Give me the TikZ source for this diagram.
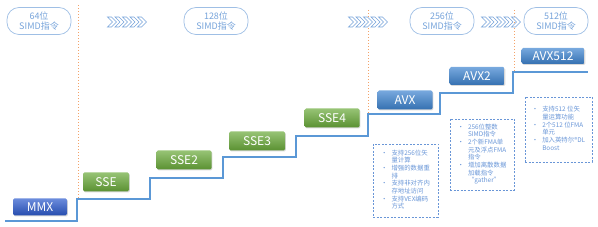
\documentclass[tikz,border=0pt]{standalone}
\usepackage{fontspec}
\setmainfont{Noto Sans CJK SC}
\usetikzlibrary{shadows}
\definecolor{lineB}{RGB}{91,152,214}
\definecolor{tagB}{RGB}{118,163,218}
\definecolor{dotO}{RGB}{244,162,104}
\definecolor{sseG}{RGB}{106,170,58}
\definecolor{avxB}{RGB}{62,132,208}
\definecolor{mmxB}{RGB}{44,90,205}
\definecolor{noteB}{RGB}{105,150,215}
\newcommand{\chevrons}[2]{\begin{scope}[shift={(#1,#2)}]
  \foreach \i in {0,...,4}{\draw[chv] (\i*7.5-19.5,-5) -- ++(4,0) -- ++(5,5) -- ++(-5,5) -- ++(-4,0) -- ++(5,-5) -- cycle;}
  \end{scope}}

\begin{document}
\begin{tikzpicture}[x=1pt, y=-1pt, font=\footnotesize,
  box/.style={rectangle, rounded corners=1.5pt, text=white, minimum height=18pt, minimum width=55pt, inner sep=0pt,
    font=\fontsize{12}{12}\selectfont, drop shadow={opacity=0.3, shadow xshift=0.8pt, shadow yshift=-1pt}},
  g/.style={box, top color=sseG!70!white, bottom color=sseG!85!black},
  b/.style={box, top color=avxB!70!white, bottom color=avxB!85!black},
  tag/.style={rectangle, rounded corners=12pt, draw=tagB!70, line width=0.7pt, text=tagB, align=center,
    minimum width=64pt, minimum height=27pt, inner sep=0pt, font=\fontsize{9}{10}\selectfont},
  note/.style={rectangle, draw=noteB, dashed, dash pattern=on 2pt off 1.5pt, line width=0.6pt, text=noteB,
    inner sep=0pt, font=\fontsize{6.4}{7.6}\selectfont},
  chv/.style={draw=tagB, fill=white, line width=0.7pt, line join=miter},
  stair/.style={draw=lineB, line width=1.6pt},
  dot/.style={draw=dotO, dotted, line width=1pt}]
  \useasboundingbox (0,0) rectangle (598,227);
  \draw[dot] (78,5) -- (78,199);
  \draw[dot] (368,10) -- (368,114);
  \draw[dot] (514,10) -- (514,72);
  \draw[stair] (5,221) -| (77,199) -| (150,178) -| (223,157) -| (296,136) -| (368,114) -| (440,93) -| (513,72) -- (588,72);
  \node[tag] (t64) at (39,21) {64位\\SIMD指令};
  \node[tag] (t128) at (216,21) {128位\\SIMD指令};
  \node[tag] (t256) at (442,21) {256位\\SIMD指令};
  \node[tag] (t512) at (556,21) {512位\\SIMD指令};
  \chevrons{127}{22}
  \chevrons{368}{22}
  \chevrons{501}{22}
  \node[box, top color=mmxB!70!white, bottom color=mmxB!85!black, minimum width=54pt, minimum height=17pt] (mmx) at (40,207) {MMX};
  \node[g, minimum width=46pt, minimum height=19pt] (sse) at (106,182) {SSE};
  \node[g, minimum height=19pt] (sse2) at (184,160) {SSE2};
  \node[g, minimum width=56pt, minimum height=19pt] (sse3) at (257,141) {SSE3};
  \node[g, minimum height=19pt] (sse4) at (332,118) {SSE4};
  \node[b, minimum height=19pt] (avx) at (405,100) {AVX};
  \node[b] (avx2) at (477,76) {AVX2};
  \node[b, minimum width=63pt, minimum height=16pt] (avx512) at (553,56) {AVX512};
  \node[note, minimum width=65pt, minimum height=73pt] (nAVX) at (405.5,180.5)
    {\begin{tabular}{@{}l@{\hspace{4pt}}l@{}}•&支持256位矢\\&量计算\\•&增强的数据重\\&排\\•&支持非对齐内\\&存地址访问\\•&支持VEX编码\\&方式\end{tabular}};
  \node[note, minimum width=64pt, minimum height=71pt] (nAVX2) at (482,154.5)
    {\begin{tabular}{@{}l@{\hspace{4pt}}l@{}}•&256位整数\\&SIMD指令\\•&2个新FMA单\\&元及浮点FMA\\&指令\\•&增加离散数据\\&加载指令\\&“gather”\end{tabular}};
  \node[note, minimum width=67pt, minimum height=65pt] (nAVX512) at (558.5,129.5)
    {\begin{tabular}{@{}l@{\hspace{4pt}}l@{}}•&支持512 位矢\\&量运算功能\\•&2个512 位FMA\\&单元\\•&加入英特尔®DL\\&Boost\end{tabular}};
\end{tikzpicture}
\end{document}
